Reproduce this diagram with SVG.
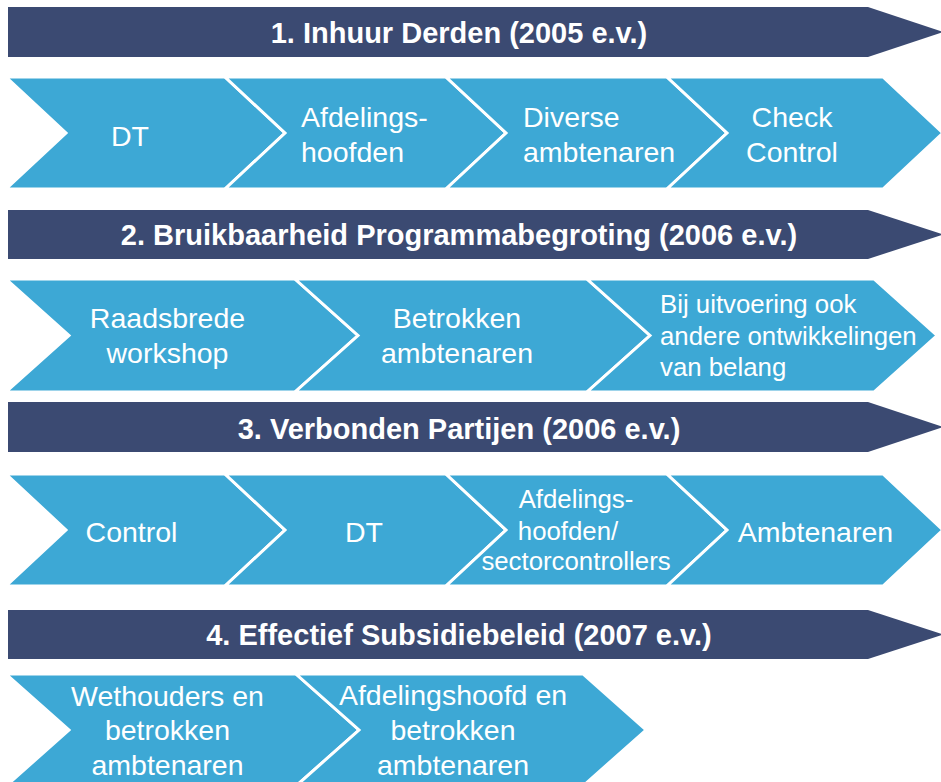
<svg xmlns="http://www.w3.org/2000/svg" width="941" height="782" viewBox="0 0 941 782">
<style>
.bn{fill:#3B4A72;}
.ch{fill:#3DA8D5;stroke:#FFFFFF;stroke-width:3;stroke-linejoin:miter;}
.bt{font-family:"Liberation Sans",Arial,sans-serif;font-weight:bold;font-size:29px;fill:#FFFFFF;text-anchor:middle;}
.t{font-family:"Liberation Sans",Arial,sans-serif;font-size:28.5px;fill:#FFFFFF;}
.s{font-family:"Liberation Sans",Arial,sans-serif;font-size:25.8px;fill:#FFFFFF;}
.m{text-anchor:middle;}
</style>
<rect width="941" height="782" fill="#FFFFFF"/>

<g id="banner1">
<polygon class="bn" points="8,7 868,7 943,32 868,57 8,57"/>
<text class="bt" x="459" y="43">1. Inhuur Derden (2005 e.v.)</text>
</g>
<g id="r1c1">
<polygon class="ch" points="6,77 225,77 285,133 225,189 6,189 66,133"/>
<text class="t m" x="130" y="146">DT</text>
</g>
<g id="r1c2">
<polygon class="ch" points="225,77 446,77 506,133 446,189 225,189 285,133"/>
<text class="t" x="301" y="127">Afdelings-</text>
<text class="t" x="301" y="162">hoofden</text>
</g>
<g id="r1c3">
<polygon class="ch" points="446,77 667,77 727,133 667,189 446,189 506,133"/>
<text class="t" x="523" y="127">Diverse</text>
<text class="t" x="523" y="162">ambtenaren</text>
</g>
<g id="r1c4">
<polygon class="ch" points="667,77 883,77 943,133 883,189 667,189 727,133"/>
<text class="t m" x="792" y="127">Check</text>
<text class="t m" x="792" y="162">Control</text>
</g>

<g id="banner2">
<polygon class="bn" points="8,210 868,210 943,234.5 868,259 8,259"/>
<text class="bt" x="459" y="245">2. Bruikbaarheid Programmabegroting (2006 e.v.)</text>
</g>
<g id="r2c1">
<polygon class="ch" points="6,279 295,279 358,335.5 295,392 6,392 69,335.5"/>
<text class="t m" x="167.5" y="328">Raadsbrede</text>
<text class="t m" x="167.5" y="363">workshop</text>
</g>
<g id="r2c2">
<polygon class="ch" points="295,279 587,279 650,335.5 587,392 295,392 358,335.5"/>
<text class="t m" x="457" y="328">Betrokken</text>
<text class="t m" x="457" y="363">ambtenaren</text>
</g>
<g id="r2c3">
<polygon class="ch" points="587,279 874,279 937,335.5 874,392 587,392 650,335.5"/>
<text class="s" x="660" y="313">Bij uitvoering ook</text>
<text class="s" x="660" y="345">andere ontwikkelingen</text>
<text class="s" x="660" y="376">van belang</text>
</g>

<g id="banner3">
<polygon class="bn" points="8,402 868,402 943,427 868,452 8,452"/>
<text class="bt" x="459" y="439">3. Verbonden Partijen (2006 e.v.)</text>
</g>
<g id="r3c1">
<polygon class="ch" points="6,474 225,474 285,530 225,586 6,586 66,530"/>
<text class="t m" x="131.5" y="542">Control</text>
</g>
<g id="r3c2">
<polygon class="ch" points="225,474 446,474 506,530 446,586 225,586 285,530"/>
<text class="t m" x="364" y="542">DT</text>
</g>
<g id="r3c3">
<polygon class="ch" points="446,474 667,474 727,530 667,586 446,586 506,530"/>
<text class="s m" x="576" y="508">Afdelings-</text>
<text class="s m" x="568" y="540">hoofden/</text>
<text class="s m" x="576" y="570">sectorcontrollers</text>
</g>
<g id="r3c4">
<polygon class="ch" points="667,474 883,474 943,530 883,586 667,586 727,530"/>
<text class="t m" x="815.5" y="542">Ambtenaren</text>
</g>

<g id="banner4">
<polygon class="bn" points="8,610 868,610 943,634.5 868,659 8,659"/>
<text class="bt" x="459" y="645">4. Effectief Subsidiebeleid (2007 e.v.)</text>
</g>
<g id="r4c1">
<polygon class="ch" points="6,674 296,674 359,730 296,786 6,786 69,730"/>
<text class="t m" x="167.5" y="706">Wethouders en</text>
<text class="t m" x="167.5" y="740">betrokken</text>
<text class="t m" x="167.5" y="775">ambtenaren</text>
</g>
<g id="r4c2">
<polygon class="ch" points="296,674 583,674 646,730 583,786 296,786 359,730"/>
<text class="t m" x="453" y="705">Afdelingshoofd en</text>
<text class="t m" x="453" y="740">betrokken</text>
<text class="t m" x="453" y="775">ambtenaren</text>
</g>

<g id="connectors"></g>
</svg>
